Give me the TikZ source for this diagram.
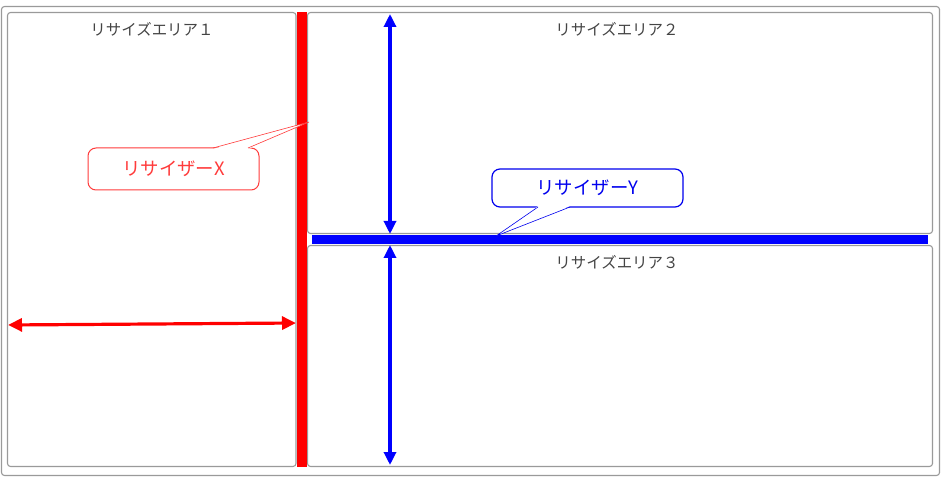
\documentclass[tikz,border=0pt]{standalone}
\usepackage{fontspec}
\setmainfont{Noto Sans CJK JP}
\usetikzlibrary{arrows.meta}
\definecolor{framegray}{HTML}{9A9A9A}
\definecolor{titlegray}{HTML}{444444}
\definecolor{barred}{HTML}{FF0000}
\definecolor{barblue}{HTML}{0000FF}
\definecolor{calloutred}{HTML}{FF3B3B}
\definecolor{calloutblue}{HTML}{0000EE}
\tikzset{
  panel/.style={draw=framegray, line width=1.1bp, rounded corners=3bp},
  areatitle/.style={text=titlegray, font=\fontsize{15.5}{18}\selectfont},
  xarrow/.style={draw=barred, line width=3.2bp, {Triangle[length=14bp,width=13bp]}-{Triangle[length=14bp,width=13bp]}},
  yarrow/.style={draw=barblue, line width=3.2bp, {Triangle[length=13bp,width=12bp]}-{Triangle[length=13bp,width=12bp]}},
  calloutbox/.style={fill=white, rounded corners=8bp, inner sep=0pt, font=\fontsize{18.5}{21}\selectfont},
  pointer/.style={line width=0.6bp}
}
\begin{document}
\begin{tikzpicture}[x=1bp,y=-1bp]
\useasboundingbox (0,0) rectangle (941,480);
\draw[panel] (1.5,6.5) rectangle (939.5,475.5);
\draw[panel] (7.5,12.5) rectangle (296,466.5);
\draw[panel] (307.5,12.5) rectangle (932.5,233.5);
\draw[panel] (307.5,245.5) rectangle (932.5,466.5);
\foreach \n/\d/\x/\y in {1/１/152/29, 2/２/617/29, 3/３/617/262}{
  \node[areatitle] (title\n) at (\x,\y) {リサイズエリア\d};
}
\fill[barred] (297,12) rectangle (307,467);
\fill[barblue] (312,235) rectangle (928,244);
\coordinate (xleft) at (8,325);
\coordinate (xright) at (296,323);
\draw[xarrow] (xleft) -- (xright);
\coordinate (ytop) at (390,14);
\coordinate (yup) at (390,234);
\coordinate (ydown) at (390,245);
\coordinate (ybottom) at (390,465);
\draw[yarrow] (ytop) -- (yup);
\draw[yarrow] (ydown) -- (ybottom);
\node[calloutbox, draw=calloutred, line width=1bp, text=calloutred, minimum width=171bp, minimum height=42bp] (resizerx) at (173.5,169) {リサイザーX};
\coordinate (xtip) at (309,122);
\fill[white] ([xshift=39.5bp,yshift=-1.5bp]resizerx.north) -- (xtip) -- ([xshift=74.5bp,yshift=-1.5bp]resizerx.north) -- cycle;
\draw[pointer, draw=calloutred] ([xshift=39.5bp,yshift=-0.5bp]resizerx.north) -- (xtip) -- ([xshift=74.5bp,yshift=-0.5bp]resizerx.north);
\node[calloutbox, draw=calloutblue, line width=1.2bp, text=calloutblue, minimum width=191bp, minimum height=38bp] (resizery) at (587.5,188) {リサイザーY};
\coordinate (ytip) at (496,236);
\fill[white] ([xshift=-49.5bp,yshift=1.5bp]resizery.south) -- (ytip) -- ([xshift=-17.5bp,yshift=1.5bp]resizery.south) -- cycle;
\draw[pointer, draw=calloutblue] ([xshift=-49.5bp,yshift=0.6bp]resizery.south) -- (ytip) -- ([xshift=-17.5bp,yshift=0.6bp]resizery.south);
\end{tikzpicture}
\end{document}
